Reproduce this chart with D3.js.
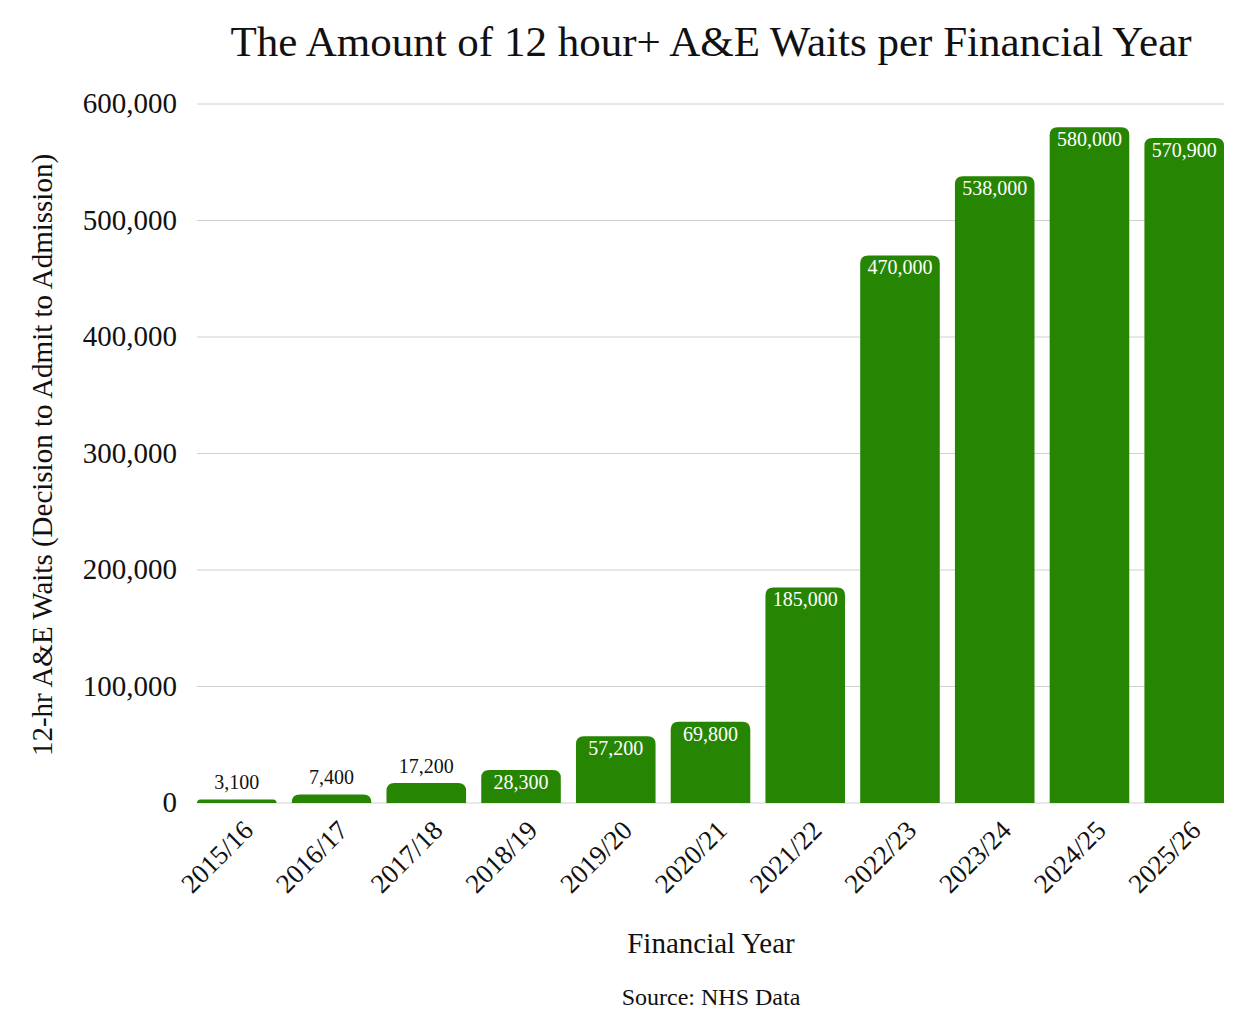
<!DOCTYPE html>
<html><head><meta charset="utf-8">
<script src="https://cdn.jsdelivr.net/npm/d3@7"></script>
<style>body{margin:0;background:#fff}svg{display:block}text{font-family:"Liberation Serif","DejaVu Serif",serif}</style>
</head><body><svg id="c" width="1254" height="1031"></svg>
<script>
const categories = ["2015/16","2016/17","2017/18","2018/19","2019/20","2020/21","2021/22","2022/23","2023/24","2024/25","2025/26"];
const values = [3100,7400,17200,28300,57200,69800,185000,470000,538000,580000,570900];
const valueLabels = ["3,100","7,400","17,200","28,300","57,200","69,800","185,000","470,000","538,000","580,000","570,900"];
const yTicks = [0,100000,200000,300000,400000,500000,600000];
const title = "The Amount of 12 hour+ A&E Waits per Financial Year";
const xTitle = "Financial Year";
const yTitle = "12-hr A&E Waits (Decision to Admit to Admission)";
const source = "Source: NHS Data";

const svg = d3.select("#c");
const L = 197, R = 1224, T = 104, B = 803;
const x = d3.scaleBand().domain(categories).range([L, R]).paddingInner(0.16).paddingOuter(0);
const y = d3.scaleLinear().domain([0, 600000]).range([B, T]);
const green = "#268503";

// gridlines
svg.append("g").selectAll("line").data(yTicks).join("line")
  .attr("x1", L).attr("x2", R).attr("y1", d => y(d)).attr("y2", d => y(d))
  .attr("stroke", "#d0d0d0").attr("stroke-width", 1);

// y tick labels
const yAxis = d3.axisLeft(y).tickValues(yTicks).tickSize(0).tickPadding(0).tickFormat(d3.format(","));
const ga = svg.append("g").attr("transform", `translate(${L - 20},0)`).call(yAxis);
ga.select(".domain").remove();
ga.selectAll("text").attr("font-size", 29).attr("fill", "#111").attr("dy", "0.3em")
  .style("font-family", '"Liberation Serif",serif');

// bars with rounded top corners
const r = 8;
function barPath(d, i) {
  const x0 = x(categories[i]), w = x.bandwidth(), y0 = y(d), h = B - y0;
  const rr = Math.min(r, h, w / 2);
  return `M${x0},${B}V${y0 + rr}Q${x0},${y0} ${x0 + rr},${y0}H${x0 + w - rr}Q${x0 + w},${y0} ${x0 + w},${y0 + rr}V${B}Z`;
}
svg.append("g").selectAll("path").data(values).join("path")
  .attr("d", (d, i) => barPath(d, i)).attr("fill", green);

// value labels
svg.append("g").selectAll("text").data(values).join("text")
  .attr("x", (d, i) => x(categories[i]) + x.bandwidth() / 2)
  .attr("y", d => d < 25000 ? y(d) - 10 : y(d) + 19)
  .attr("text-anchor", "middle").attr("font-size", 20)
  .attr("fill", d => d < 25000 ? "#111" : "#fff")
  .text((d, i) => valueLabels[i]);

// x tick labels
const xAxis = d3.axisBottom(x).tickSize(0).tickPadding(0);
const gx = svg.append("g").attr("transform", `translate(0,${B})`).call(xAxis);
gx.select(".domain").remove();
gx.selectAll("text").attr("font-size", 27).attr("fill", "#111")
  .attr("text-anchor", "end").attr("dy", 0).attr("y", 0)
  .attr("transform", "translate(18,29) rotate(-45)")
  .style("font-family", '"Liberation Serif",serif');

// titles
svg.append("text").attr("x", 711).attr("y", 56).attr("text-anchor", "middle")
  .attr("font-size", 43).attr("fill", "#111").text(title);
svg.append("text").attr("x", 711).attr("y", 953).attr("text-anchor", "middle")
  .attr("font-size", 29).attr("fill", "#111").text(xTitle);
svg.append("text").attr("x", 711).attr("y", 1005).attr("text-anchor", "middle")
  .attr("font-size", 24).attr("fill", "#111").text(source);
svg.append("text").attr("transform", "translate(52,455) rotate(-90)").attr("text-anchor", "middle")
  .attr("font-size", 29).attr("fill", "#111").text(yTitle);
</script></body></html>
